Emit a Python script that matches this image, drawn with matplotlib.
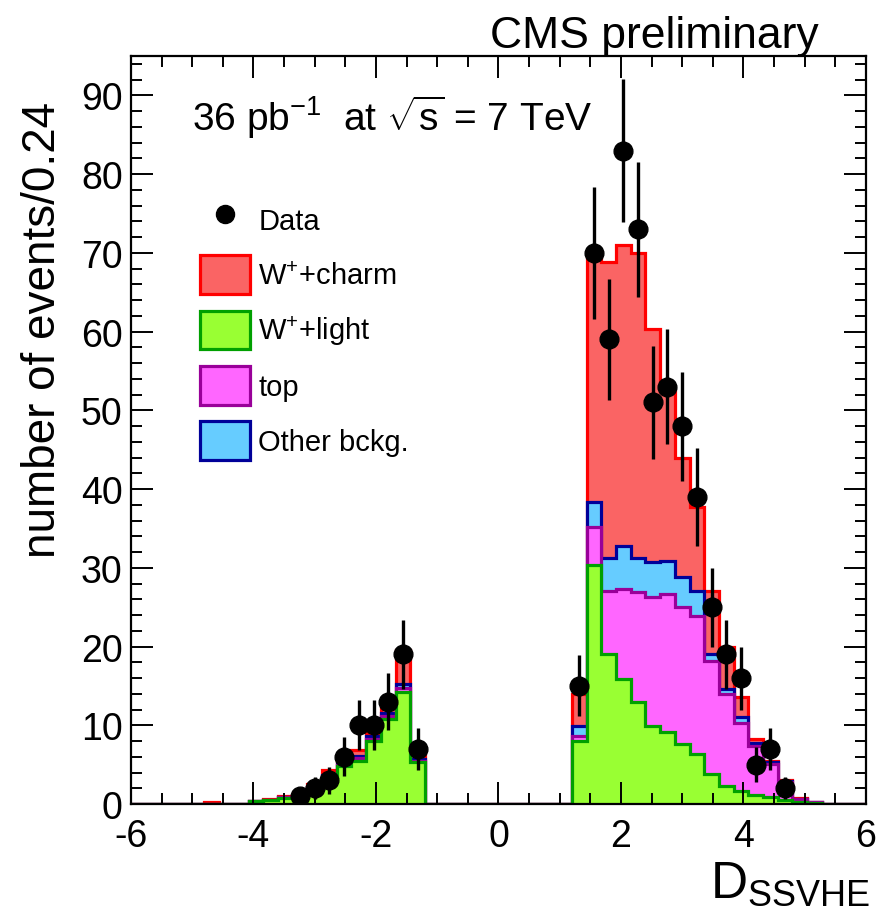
import numpy as np
import matplotlib
matplotlib.use("Agg")
import matplotlib.pyplot as plt
from matplotlib.lines import Line2D
from matplotlib.patches import Patch
from matplotlib.ticker import MultipleLocator

plt.rcParams["font.family"] = ["Liberation Sans", "DejaVu Sans"]
plt.rcParams["mathtext.fontset"] = "custom"
plt.rcParams["mathtext.rm"] = "Liberation Sans"
plt.rcParams["mathtext.it"] = "Liberation Sans:italic"
plt.rcParams["mathtext.bf"] = "Liberation Sans:bold"
plt.rcParams["axes.unicode_minus"] = False

# 50 bins of width 0.24 from -6 to 6
edges = np.linspace(-6, 6, 51)

w_light = [0, 0, 0, 0, 0, 0, 0, 0.05, 0.4, 0.45,
           0.8, 1.1, 2.0, 3.4, 4.8, 5.5, 8.0, 10.8, 14.2, 5.3,
           0, 0, 0, 0, 0, 0, 0, 0, 0, 0,
           8.0, 30.4, 19.0, 15.9, 13.0, 9.9, 9.1, 7.6, 6.3, 3.8,
           2.3, 1.6, 1.2, 0.9, 0.5, 0.3, 0.1, 0, 0, 0]

top = [0, 0, 0, 0, 0, 0, 0, 0, 0, 0.02,
       0.03, 0.05, 0.1, 0.15, 0.2, 0.3, 0.3, 0.4, 0.5, 0.2,
       0, 0, 0, 0, 0, 0, 0, 0, 0, 0,
       0.6, 4.8, 8.1, 11.4, 13.9, 16.4, 17.6, 17.4, 17.6, 14.4,
       11.7, 8.7, 6.2, 4.2, 2.3, 0.3, 0.1, 0, 0, 0]

other = [0, 0, 0, 0, 0, 0, 0, 0, 0, 0.02,
         0.03, 0.05, 0.1, 0.15, 0.2, 0.3, 0.3, 0.4, 0.5, 0.2,
         0, 0, 0, 0, 0, 0, 0, 0, 0, 0,
         1.3, 3.1, 4.2, 5.5, 4.4, 4.4, 4.2, 3.8, 3.2, 0.9,
         0.6, 0.7, 0.4, 0.2, 0.1, 0.05, 0, 0, 0, 0]

w_charm = [0, 0, 0, 0, 0, 0.25, 0, 0, 0, 0.1,
           0.1, 0.15, 0.3, 0.6, 0.6, 0.8, 0.4, 0.6, 4.3, 0.6,
           0, 0, 0, 0, 0, 0, 0, 0, 0, 0,
           4.1, 31.7, 37.5, 38.2, 38.7, 29.6, 21.6, 15.2, 10.6, 7.9,
           5.4, 2.6, 0.5, 0.2, 0.1, 0.05, 0, 0, 0, 0]

data = ([0] * 11 + [1, 2, 3, 6, 10, 10, 13, 19, 7] + [0] * 10
        + [15, 70, 59, 83, 73, 51, 53, 48, 39, 25, 19, 16, 5, 7, 2] + [0] * 5)

labels = ["W$^{+}$+charm", "W$^{+}$+light", "top", "Other bckg."]
fills = ["#fa6464", "#99ff33", "#ff66ff", "#66ccff"]
lines = ["#ff0000", "#00a000", "#990099", "#000099"]

# stacking: light at the bottom, then top, other, charm
c_light = np.array(w_light)
c_top = c_light + np.array(top)
c_other = c_top + np.array(other)
c_charm = c_other + np.array(w_charm)

fig = plt.figure(figsize=(8.76, 9.2), dpi=100)
ax = fig.add_axes([0.1495, 0.125, 0.839, 0.813])

layers = [(c_charm, 0), (c_other, 3), (c_top, 2), (c_light, 1)]
for vals, i in layers:
    ax.stairs(vals, edges, baseline=0, fill=True, color=fills[i], lw=0)
    ax.stairs(vals, edges, baseline=0, fill=False, color=lines[i], lw=2.3)

d = np.array(data, dtype=float)
centers = 0.5 * (edges[:-1] + edges[1:])
m = d > 0
ax.errorbar(centers[m], d[m], yerr=np.sqrt(d[m]), fmt="o", color="black",
            ms=13.5, elinewidth=2.4, capsize=0)

ax.set_xlim(-6, 6)
ax.set_ylim(0, 95)
ax.xaxis.set_major_locator(MultipleLocator(2))
ax.xaxis.set_minor_locator(MultipleLocator(0.5))
ax.yaxis.set_major_locator(MultipleLocator(10))
ax.yaxis.set_minor_locator(MultipleLocator(2))
ax.tick_params(which="both", direction="in", top=True, right=True, width=1.4,
               labelsize=27, colors="black")
ax.tick_params(which="major", length=16)
ax.tick_params(which="minor", length=8)
ax.tick_params(axis="x", which="major", pad=10)
ax.tick_params(axis="y", which="major", pad=6)
for s in ax.spines.values():
    s.set_linewidth(1.6)

ax.set_ylabel("number of events/0.24", fontsize=33)
ax.yaxis.set_label_coords(-0.09, 0.635)
fig.text(0.993, 0.012, "D$_{\\mathrm{SSVHE}}$", fontsize=37, ha="right", va="bottom")
fig.text(0.934, 0.948, "CMS preliminary", fontsize=32, ha="right", va="baseline")
ax.text(-5.0, 85.6, "36 pb$^{-1}$  at $\\sqrt{\\mathrm{s}}$ = 7 TeV", fontsize=28,
        ha="left", va="baseline")

handles = [Line2D([], [], marker="o", ls="none", color="black", ms=13)]
for i in range(4):
    handles.append(Patch(facecolor=fills[i], edgecolor=lines[i], lw=2.3))
ax.legend(handles, ["Data"] + labels, loc="upper left",
          bbox_to_anchor=(0.094, 0.808), frameon=False, fontsize=21,
          handlelength=1.7, handleheight=1.67, labelspacing=0.57,
          handletextpad=0.3, borderpad=0, borderaxespad=0)

fig.savefig("out.png", dpi=100)
